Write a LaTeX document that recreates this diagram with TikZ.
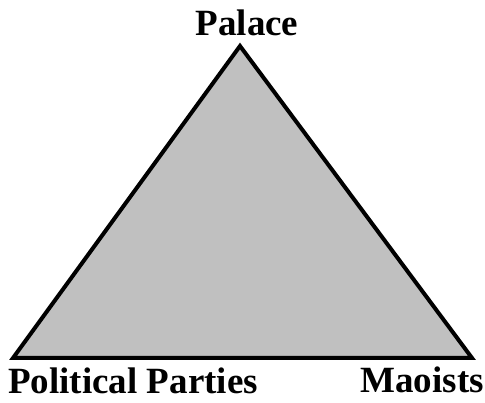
\documentclass[tikz,border=0pt]{standalone}
\usepackage{fontspec}
\setmainfont{Liberation Serif}
\usetikzlibrary{positioning}
\definecolor{trigray}{RGB}{192,192,192}
\tikzset{corner/.style={font=\fontsize{37}{42}\selectfont\bfseries,inner sep=0pt,anchor=base},side/.style={draw=black,line width=4pt,line join=miter,fill=trigray}}

\begin{document}
\begin{tikzpicture}[x=1pt,y=-1pt]
\useasboundingbox (0,0) rectangle (485,403);
\coordinate (top) at (240,46);
\coordinate (left) at (13,358);
\coordinate (right) at (472,358);
\draw[side] (top)--(left)--(right)--cycle;
\node[corner] (palace) at (247,36) {Palace};
\node[corner,anchor=base west] (parties) at (8,394) {Political Parties};
\node[corner,anchor=base east] (maoists) at (484,393) {Maoists};
\end{tikzpicture}
\end{document}
